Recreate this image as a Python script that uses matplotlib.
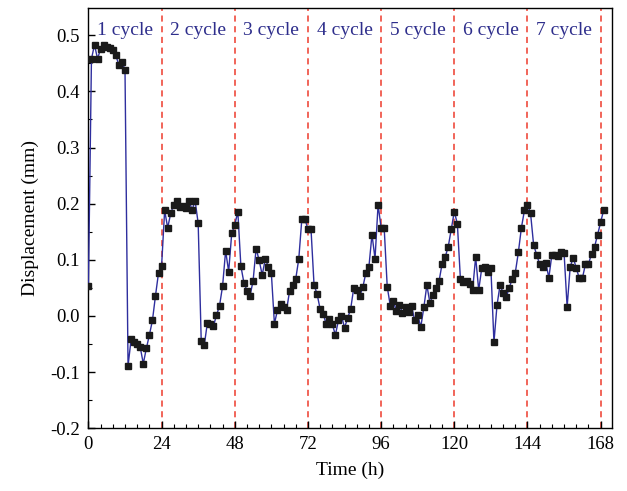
import matplotlib
matplotlib.use("Agg")
import matplotlib.pyplot as plt
from matplotlib.ticker import MultipleLocator

hours = list(range(0, 170))
displacement = [
    0.053, 0.458, 0.483, 0.458, 0.476, 0.483, 0.480, 0.478, 0.473, 0.464,
    0.447, 0.452, 0.439, -0.089, -0.042, -0.046, -0.050, -0.056, -0.085, -0.058,
    -0.034, -0.008, 0.036, 0.077, 0.089, 0.188, 0.157, 0.183, 0.198, 0.205,
    0.194, 0.196, 0.192, 0.205, 0.189, 0.205, 0.165, -0.045, -0.052, -0.013,
    -0.014, -0.018, 0.001, 0.018, 0.053, 0.116, 0.079, 0.147, 0.162, 0.186,
    0.089, 0.059, 0.045, 0.036, 0.062, 0.120, 0.099, 0.073, 0.101, 0.088,
    0.076, -0.014, 0.010, 0.022, 0.015, 0.011, 0.045, 0.055, 0.066, 0.102,
    0.173, 0.172, 0.155, 0.155, 0.055, 0.039, 0.012, 0.004, -0.015, -0.005,
    -0.015, -0.034, -0.008, 0.000, -0.021, -0.004, 0.012, 0.049, 0.046, 0.036,
    0.051, 0.077, 0.088, 0.145, 0.102, 0.198, 0.157, 0.157, 0.052, 0.018,
    0.026, 0.009, 0.019, 0.006, 0.016, 0.007, 0.017, -0.008, 0.002, -0.020,
    0.015, 0.055, 0.023, 0.038, 0.050, 0.062, 0.093, 0.105, 0.123, 0.154,
    0.186, 0.164, 0.066, 0.061, 0.063, 0.056, 0.046, 0.105, 0.046, 0.085,
    0.088, 0.079, 0.085, -0.047, 0.019, 0.055, 0.041, 0.033, 0.050, 0.066,
    0.077, 0.113, 0.157, 0.188, 0.198, 0.183, 0.127, 0.109, 0.092, 0.088,
    0.095, 0.068, 0.109, 0.109, 0.107, 0.114, 0.112, 0.016, 0.087, 0.104,
    0.085, 0.067, 0.067, 0.092, 0.092, 0.111, 0.123, 0.145, 0.167, 0.189,
]
cycle_bounds = [24, 48, 72, 96, 120, 144, 168]
cycle_labels = ["1 cycle", "2 cycle", "3 cycle", "4 cycle", "5 cycle", "6 cycle", "7 cycle"]
cycle_centers = [12, 36, 60, 84, 108, 132, 156]
xticks = [0, 24, 48, 72, 96, 120, 144, 168]

plt.rcParams['font.family'] = ['Liberation Serif', 'DejaVu Serif']

fig = plt.figure(figsize=(6.27, 4.91), dpi=100)
ax = fig.add_axes([0.141, 0.128, 0.835, 0.855])

for b in cycle_bounds:
    ax.axvline(b, color='#ee3b2c', linestyle=(0, (4, 3)), linewidth=1.1, zorder=1)

ax.plot(hours, displacement, color='#2e2e9e', linewidth=1.0,
        marker='s', markersize=4.2, markerfacecolor='#1a1a1a',
        markeredgecolor='#1a1a1a', zorder=3)

for c, lab in zip(cycle_centers, cycle_labels):
    ax.text(c, 0.508, lab, ha='center', va='center', fontsize=14,
            color='#2e2e8c', zorder=4)

ax.set_xlim(0, 171.7)
ax.set_ylim(-0.2, 0.548)
ax.set_xticks(xticks)
ax.xaxis.set_minor_locator(MultipleLocator(4))
ax.yaxis.set_major_locator(MultipleLocator(0.1))
ax.yaxis.set_minor_locator(MultipleLocator(0.05))
ax.set_yticks([-0.2, -0.1, 0.0, 0.1, 0.2, 0.3, 0.4, 0.5])
ax.set_yticklabels(['-0.2', '-0.1', '0.0', '0.1', '0.2', '0.3', '0.4', '0.5'])
ax.tick_params(which='major', direction='in', length=5, width=1, labelsize=13.5, pad=6)
ax.tick_params(which='minor', direction='in', length=3, width=0.8)
ax.tick_params(top=False, right=False)
for s in ax.spines.values():
    s.set_linewidth(1.0)

ax.set_xlabel('Time (h)', fontsize=14, labelpad=6)
ax.set_ylabel('Displacement (mm)', fontsize=14, labelpad=8)

fig.savefig('out.png', dpi=100)
